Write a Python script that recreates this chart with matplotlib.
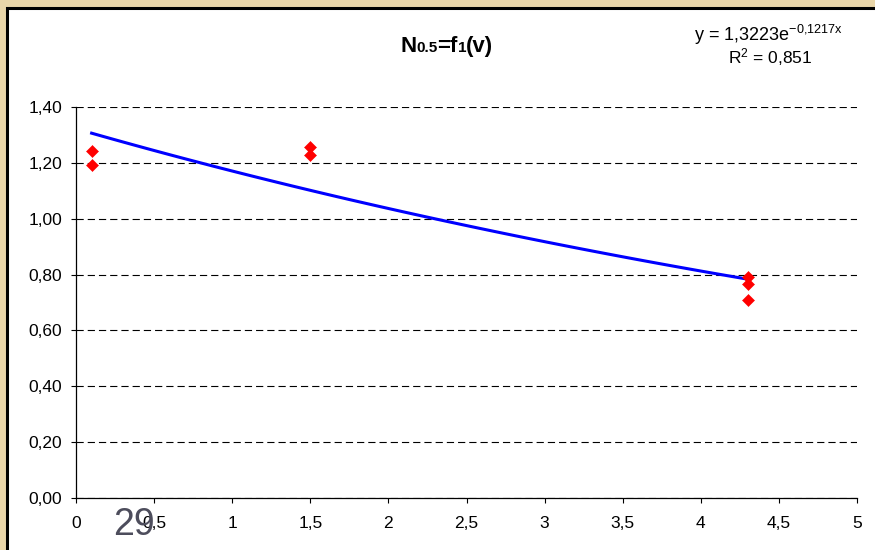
import numpy as np
import matplotlib.pyplot as plt
from matplotlib.patches import Rectangle

plt.rcParams['font.family'] = ['Liberation Sans', 'DejaVu Sans']
plt.rcParams['mathtext.fontset'] = 'custom'
plt.rcParams['mathtext.rm'] = 'Liberation Sans'
plt.rcParams['mathtext.it'] = 'Liberation Sans'
plt.rcParams['mathtext.bf'] = 'Liberation Sans:bold'

# measured points (v, N0.5)
v_vals = [0.1, 0.1, 1.5, 1.5, 4.3, 4.3, 4.3]
n_vals = [1.243, 1.194, 1.256, 1.229, 0.792, 0.768, 0.708]

# exponential trend line as printed on the chart
trend_a = 1.3223
trend_b = -0.1217
trend_range = [0.1, 4.3]

x_ticks = [0, 0.5, 1, 1.5, 2, 2.5, 3, 3.5, 4, 4.5, 5]
x_tick_labels = ['0', '0,5', '1', '1,5', '2', '2,5', '3', '3,5', '4', '4,5', '5']
y_ticks = [0, 0.2, 0.4, 0.6, 0.8, 1.0, 1.2, 1.4]
y_tick_labels = ['0,00', '0,20', '0,40', '0,60', '0,80', '1,00', '1,20', '1,40']

W, H = 875, 550
fig = plt.figure(figsize=(W / 100, H / 100), dpi=100)
fig.patch.set_facecolor('#e9d6a9')

# white chart area with black frame (runs off the right and bottom edges)
fig.patches.append(Rectangle((7 / W, -0.1), 1.1, 1 - 8 / H + 0.1, transform=fig.transFigure,
                             facecolor='white', edgecolor='black', linewidth=2.2, zorder=-1))

ax = fig.add_axes([76 / W, 1 - 498 / H, (857 - 76) / W, (498 - 107) / H])
ax.set_facecolor('none')

ax.yaxis.grid(True, color='black', linestyle=(0, (6.5, 3.6)), linewidth=0.8)
ax.set_axisbelow(True)

xt = np.linspace(trend_range[0], trend_range[1], 60)
ax.plot(xt, trend_a * np.exp(trend_b * xt), color='#0000ff', linewidth=2.2, zorder=3)
ax.plot(v_vals, n_vals, linestyle='none', marker='D', markersize=6, color='#ff0000',
        markeredgewidth=0.4, zorder=4)

ax.set_xlim(0, 5)
ax.set_ylim(0, 1.4)
ax.set_xticks(x_ticks)
ax.set_xticklabels(x_tick_labels)
ax.set_yticks(y_ticks)
ax.set_yticklabels(y_tick_labels)
ax.tick_params(direction='out', length=3.6, width=0.8, labelsize=12.5, colors='black')
ax.tick_params(axis='x', pad=9)
ax.tick_params(axis='y', pad=6.5)
for side in ['top', 'right']:
    ax.spines[side].set_visible(False)
for side in ['left', 'bottom']:
    ax.spines[side].set_linewidth(0.9)

# title N0.5=f1(v) with small indices
renderer = fig.canvas.get_renderer()
pieces = [('N', 16), ('0.5', 11), ('=f', 16), ('1', 11), ('(v)', 16)]
x = 400
for s, size in pieces:
    t = fig.text(x / W, 1 - 52 / H, s, fontsize=size, fontweight='bold', ha='left', va='baseline')
    x += t.get_window_extent(renderer).width

# trend equation
fig.text(768 / W, 1 - 41 / H, r'y = 1,3223e$^{-0{,}1217x}$', fontsize=13, ha='center', va='baseline')
fig.text(770 / W, 1 - 63 / H, r'R$^{2}$ = 0,851', fontsize=12.5, ha='center', va='baseline')

# slide number
fig.text(113 / W, 1 - 535 / H, '29', fontsize=27, color='#4d4d5c', ha='left', va='baseline', zorder=5)

fig.savefig('out.png', dpi=100)
